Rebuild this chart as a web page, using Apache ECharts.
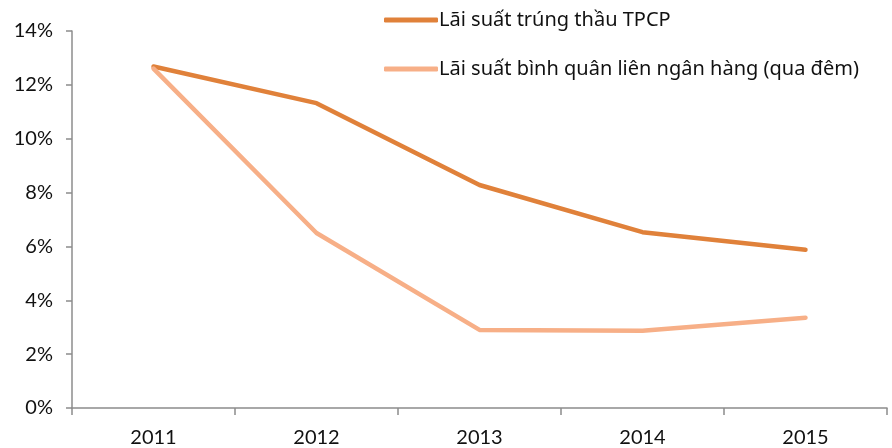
<!DOCTYPE html>
<html>
<head>
<meta charset="utf-8">
<script src="https://cdn.jsdelivr.net/npm/echarts@6/dist/echarts.min.js"></script>
<style>
  html, body { margin: 0; padding: 0; background: #fff; }
  #chart { width: 892px; height: 448px; }
</style>
</head>
<body>
<div id="chart"></div>
<script>
// du lieu doc tu hinh
var years = ['2011', '2012', '2013', '2014', '2015'];
var tpcp = [12.68, 11.32, 8.28, 6.53, 5.88];       // Lai suat trung thau TPCP
var lienNganHang = [12.6, 6.5, 2.9, 2.87, 3.35];   // Lai suat binh quan lien ngan hang
var seriesNames = ['Lãi suất trúng thầu TPCP', 'Lãi suất bình quân liên ngân hàng (qua đêm)'];
var colors = ['#E0813A', '#F7AF87'];

var chart = echarts.init(document.getElementById('chart'));
var font = 'Lato';
var axisColor = '#8c8c8c';

var option = {
    animation: false,
    backgroundColor: '#fff',
    textStyle: { fontFamily: font },
    legend: {
        orient: 'vertical',
        left: 379,
        top: 5,
        itemWidth: 54,
        itemHeight: 5,
        itemGap: 29,
        icon: 'roundRect',
        textStyle: { fontFamily: 'Noto Sans', fontSize: 20, color: '#111', padding: [0, 0, 0, -4] },
        data: seriesNames
    },
    grid: {
        left: 72,
        right: 5,
        top: 31,
        bottom: 40
    },
    xAxis: {
        type: 'category',
        data: years,
        boundaryGap: true,
        axisLine: { lineStyle: { color: axisColor, width: 1.5 } },
        axisTick: { show: true, length: 7, alignWithLabel: false, lineStyle: { color: axisColor, width: 1.5 } },
        axisLabel: { color: '#111', fontSize: 20, margin: 20, fontFamily: font }
    },
    yAxis: {
        type: 'value',
        min: 0,
        max: 14,
        interval: 2,
        axisLine: { show: true, lineStyle: { color: axisColor, width: 1.5 } },
        axisTick: { show: true, length: 6, lineStyle: { color: axisColor, width: 1.5 } },
        splitLine: { show: false },
        axisLabel: {
            color: '#111', fontSize: 20, margin: 19, fontFamily: font,
            formatter: function (v) { return v + '%'; }
        }
    },
    series: [
        {
            name: seriesNames[0],
            type: 'line',
            data: tpcp,
            color: colors[0],
            symbol: 'none',
            lineStyle: { width: 4.5, color: colors[0], cap: 'round', join: 'round' }
        },
        {
            name: seriesNames[1],
            type: 'line',
            data: lienNganHang,
            color: colors[1],
            symbol: 'none',
            lineStyle: { width: 4.5, color: colors[1], cap: 'round', join: 'round' }
        }
    ]
};
chart.setOption(option);
</script>
</body>
</html>
